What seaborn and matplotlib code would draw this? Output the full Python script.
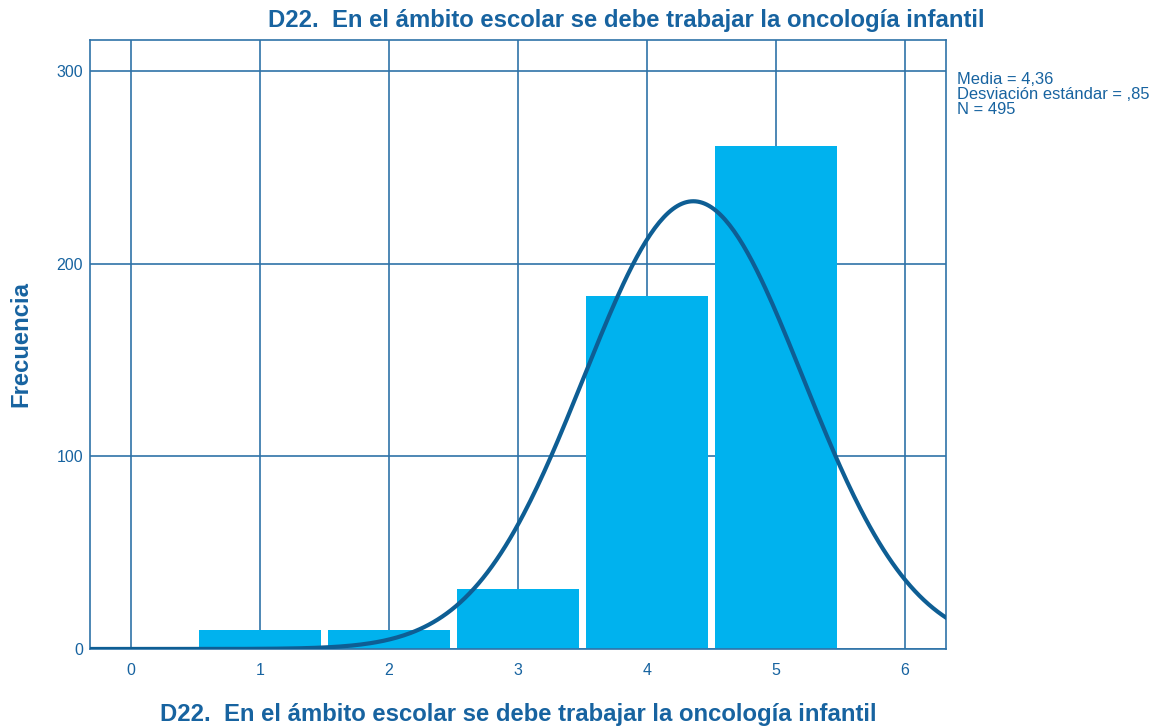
import numpy as np
import pandas as pd
import seaborn as sns
import matplotlib.pyplot as plt

# frequencies
valores = [1, 2, 3, 4, 5]
frecuencias = [10, 10, 31, 183, 261]
media = 4.36
desv = 0.85
n_total = 495
titulo = 'D22.  En el ámbito escolar se debe trabajar la oncología infantil'

sns.set_theme(style='white')
plt.rcParams['font.family'] = ['Liberation Sans', 'DejaVu Sans']

azul_txt = '#1763A0'
azul_grid = '#2F73A8'
azul_barra = '#00B2EE'
azul_curva = '#0E5E94'

df = pd.DataFrame({'valor': valores, 'frecuencia': frecuencias})

fig = plt.figure(figsize=(11.53, 7.27), dpi=100)
ax = fig.add_axes([90 / 1153, 78 / 727, 856 / 1153, 609 / 727])

sns.histplot(data=df, x='valor', weights='frecuencia', discrete=True, shrink=0.95,
             color=azul_barra, alpha=1, edgecolor='none', ax=ax, zorder=2)

# normal curve scaled to counts (bin width 1)
xs = np.linspace(-0.5, 6.5, 400)
ys = n_total / (desv * np.sqrt(2 * np.pi)) * np.exp(-0.5 * ((xs - media) / desv) ** 2)
sns.lineplot(x=xs, y=ys, color=azul_curva, linewidth=3, ax=ax, zorder=3)

ax.set_xlim(-0.32, 6.32)
ax.set_ylim(0, 316)
ax.set_xticks(range(0, 7))
ax.set_yticks([0, 100, 200, 300])
ax.grid(True, color=azul_grid, linewidth=1.2, zorder=1)
ax.set_axisbelow(True)
for s in ax.spines.values():
    s.set_color(azul_grid)
    s.set_linewidth(1.2)
ax.tick_params(axis='both', length=0, labelsize=11.5, labelcolor=azul_txt)
ax.tick_params(axis='x', pad=10)
ax.tick_params(axis='y', pad=5)

ax.set_xlabel(titulo, fontsize=17.2, fontweight='bold', color=azul_txt, labelpad=18)
ax.set_ylabel('')

fig.text(21 / 1153, 1 - 344 / 727, 'Frecuencia', rotation=90, ha='center', va='center',
         fontsize=17.2, fontweight='bold', color=azul_txt)

fig.text(626 / 1153, 1 - 20 / 727, titulo, ha='center', va='center',
         fontsize=17.2, fontweight='bold', color=azul_txt)

fig.text(957 / 1153, 1 - 72 / 727,
         'Media = 4,36\nDesviación estándar = ,85\nN = 495',
         ha='left', va='top', fontsize=11.9, color=azul_txt, linespacing=1.0)

fig.savefig('out.png', dpi=100)
